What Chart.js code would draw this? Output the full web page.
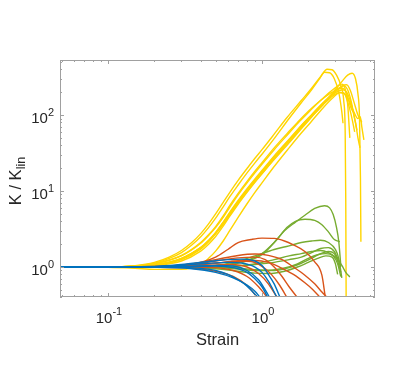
<!DOCTYPE html>
<html>
<head>
<meta charset="utf-8">
<script src="https://cdn.jsdelivr.net/npm/chart.js@4.4.0/dist/chart.umd.min.js"></script>
<style>
  body { margin: 0; background: #fff; }
  #wrap { width: 415px; height: 371px; }
</style>
</head>
<body>
<div id="wrap"><canvas id="chart" width="415" height="371"></canvas></div>
<script>
// axis limits and ticks (log-log)
const xRange = [0.0488, 5.42];
const yRange = [0.403, 530];
const xMajorTicks = [0.1, 1];
const xMinorTicks = [0.05, 0.06, 0.07, 0.08, 0.09, 0.2, 0.3, 0.4, 0.5, 0.6, 0.7, 0.8, 0.9, 2, 3, 4, 5];
const yMajorTicks = [1, 10, 100];
const yMinorTicks = [0.4, 0.5, 0.6, 0.7, 0.8, 0.9, 2, 3, 4, 5, 6, 7, 8, 9, 20, 30, 40, 50, 60, 70, 80, 90, 200, 300, 400, 500];

// curves as [strain, K/Klin] pairs
const yellowCurves = [
  [[0.049,1],[0.1,1.0],[0.15,1.04],[0.2,1.15],[0.25,1.35],[0.3,1.65],[0.35,2.1],[0.4,2.75],[0.45,3.7],[0.5,5.0],[0.56,7.1],[0.62,9.7],[0.7,13.8],[0.8,19.8],[0.9,27],[1.0,35],[1.2,56],[1.45,92],[1.8,155],[2.1,225],[2.4,320],[2.65,400],[2.85,395],[3.05,335],[3.25,245],[3.4,150],[3.47,60],[3.5,8],[3.52,0.4]],
  [[0.049,1],[0.1,1.0],[0.15,1.03],[0.2,1.12],[0.25,1.3],[0.3,1.55],[0.35,1.95],[0.4,2.5],[0.45,3.3],[0.5,4.4],[0.56,6.2],[0.62,8.5],[0.7,12],[0.8,17.3],[0.9,23.5],[1.0,30.5],[1.2,49],[1.5,90],[1.8,145],[2.1,215],[2.35,295],[2.55,365],[2.75,360],[2.95,300],[3.15,200],[3.3,110],[3.36,78]],
  [[0.049,1],[0.1,1.0],[0.15,1.02],[0.2,1.07],[0.3,1.3],[0.4,1.8],[0.45,2.2],[0.5,2.75],[0.56,3.65],[0.62,4.9],[0.7,6.9],[0.8,9.8],[0.9,13.2],[1.0,17],[1.2,26],[1.5,43],[1.8,66],[2.1,94],[2.5,140],[2.9,200],[3.3,275],[3.6,335],[3.85,355],[4.05,300],[4.2,190],[4.3,90],[4.36,15],[4.39,2.15]],
  [[0.049,1],[0.1,1.0],[0.15,1.03],[0.2,1.1],[0.3,1.4],[0.4,2.05],[0.45,2.6],[0.5,3.3],[0.56,4.5],[0.62,6.2],[0.7,8.9],[0.8,12.8],[0.9,17.3],[1.0,22.5],[1.2,35],[1.5,58],[1.75,82],[2.0,108],[2.4,155],[2.8,205],[3.1,240],[3.3,255],[3.45,230],[3.6,140],[3.72,50]],
  [[0.049,1],[0.1,1.0],[0.15,1.02],[0.2,1.06],[0.3,1.3],[0.4,1.8],[0.45,2.2],[0.5,2.8],[0.56,3.85],[0.62,5.2],[0.7,7.3],[0.8,10.3],[0.9,13.8],[1.0,17.8],[1.2,27.5],[1.5,46],[1.8,70],[2.1,97],[2.5,140],[2.9,190],[3.2,228],[3.4,242],[3.6,215],[3.8,150],[3.95,100],[4.14,63]],
  [[0.049,1],[0.1,1.0],[0.15,1.01],[0.2,1.05],[0.3,1.25],[0.4,1.72],[0.45,2.15],[0.5,2.75],[0.56,3.75],[0.62,5.1],[0.7,7.2],[0.8,10.3],[0.9,13.9],[1.0,18],[1.2,28],[1.5,47],[1.8,72],[2.05,96],[2.4,135],[2.8,178],[3.1,205],[3.35,215],[3.55,200],[3.8,140],[4.05,80],[4.2,50],[4.33,37]],
  [[0.049,1],[0.1,1.0],[0.15,1.0],[0.2,1.04],[0.3,1.2],[0.4,1.62],[0.45,2.0],[0.5,2.52],[0.56,3.45],[0.62,4.7],[0.7,6.7],[0.8,9.6],[0.9,13],[1.0,16.8],[1.2,26.5],[1.5,44],[1.8,68],[2.1,95],[2.5,137],[2.9,180],[3.2,198],[3.45,190],[3.7,150],[3.95,110],[4.2,90],[4.35,95],[4.45,70],[4.59,47]],
  [[0.049,1],[0.1,1.0],[0.15,1.03],[0.2,1.1],[0.3,1.42],[0.4,2.1],[0.45,2.65],[0.5,3.4],[0.56,4.7],[0.62,6.5],[0.7,9.3],[0.8,13.4],[0.9,18.2],[1.0,23.6],[1.2,37],[1.5,61],[1.7,80],[2.0,112],[2.4,155],[2.8,195],[3.1,218],[3.35,225],[3.55,190],[3.75,130],[3.9,110]],
  [[0.049,1],[0.1,1.0],[0.15,1.01],[0.2,1.05],[0.3,1.28],[0.4,1.8],[0.45,2.25],[0.5,2.85],[0.56,3.9],[0.62,5.3],[0.7,7.5],[0.8,10.7],[0.9,14.4],[1.0,18.6],[1.2,29],[1.5,48],[1.8,73],[2.1,100],[2.5,145],[2.9,195],[3.3,240],[3.55,250],[3.75,210],[3.95,150],[4.2,100],[4.45,80]],
  [[0.049,1],[0.1,0.99],[0.15,0.96],[0.2,0.93],[0.3,0.93],[0.4,1.08],[0.45,1.3],[0.5,1.62],[0.56,2.2],[0.62,3.05],[0.7,4.5],[0.8,6.8],[0.9,9.6],[1.0,12.8],[1.2,21],[1.5,37],[1.8,58],[2.1,83],[2.5,125],[2.9,170],[3.2,198],[3.4,195],[3.6,150],[3.8,100],[4.0,60]]
];

const greenCurves = [
  [[0.049,1],[0.2,1.0],[0.4,1.02],[0.6,1.08],[0.8,1.22],[1.0,1.5],[1.2,2.1],[1.4,3.0],[1.65,3.9],[1.9,4.8],[2.2,5.9],[2.55,6.4],[2.75,6.0],[2.9,4.9],[3.05,3.3],[3.15,2.2],[3.25,1.05]],
  [[0.049,1],[0.2,1.0],[0.4,1.02],[0.6,1.07],[0.8,1.2],[1.0,1.45],[1.25,2.3],[1.45,3.3],[1.65,4.0],[1.9,4.25],[2.2,4.1],[2.45,3.6],[2.7,2.9],[2.95,2.3],[3.2,2.15]],
  [[0.049,1],[0.3,1.0],[0.5,1.05],[0.65,1.15],[0.9,1.4],[1.2,1.7],[1.5,1.9],[1.8,2.1],[2.1,2.2],[2.4,2.25],[2.7,2.1],[3.0,1.7],[3.15,1.3],[3.3,0.72]],
  [[0.049,1],[0.3,1.0],[0.6,1.02],[0.9,1.1],[1.2,1.25],[1.5,1.4],[1.8,1.5],[2.1,1.6],[2.4,1.65],[2.7,1.55],[3.0,1.35],[3.3,1.05],[3.5,0.85],[3.72,0.74]],
  [[0.049,1],[0.3,1.0],[0.5,0.98],[0.7,0.94],[0.9,0.9],[1.1,0.9],[1.4,0.97],[1.7,1.1],[2.0,1.3],[2.3,1.45],[2.6,1.5],[2.9,1.4],[3.1,1.1],[3.25,0.75]],
  [[0.049,1],[0.3,0.99],[0.5,0.95],[0.7,0.88],[0.9,0.83],[1.1,0.82],[1.4,0.88],[1.7,1.0],[2.0,1.15],[2.3,1.3],[2.6,1.4],[2.85,1.35],[3.0,1.1],[3.1,0.8]],
  [[0.049,1],[0.3,1.0],[0.5,1.0],[0.7,0.97],[0.9,0.92],[1.2,0.9],[1.5,0.98],[1.8,1.12],[2.1,1.3],[2.4,1.5],[2.7,1.6],[2.95,1.5],[3.1,1.2],[3.25,0.85]],
  [[0.049,1],[0.3,1.0],[0.6,1.02],[0.9,1.08],[1.2,1.15],[1.5,1.25],[1.8,1.35],[2.1,1.55],[2.4,1.75],[2.7,1.8],[2.95,1.6],[3.1,1.3],[3.25,1.0]]
];

const orangeCurves = [
  [[0.049,1],[0.2,1.0],[0.3,1.05],[0.4,1.15],[0.5,1.35],[0.6,1.7],[0.7,2.1],[0.85,2.3],[1.0,2.4],[1.2,2.38],[1.4,2.2],[1.6,1.95],[1.9,1.6],[2.2,1.17],[2.45,0.78],[2.57,0.42]],
  [[0.049,1],[0.2,1.02],[0.35,1.1],[0.5,1.25],[0.7,1.42],[0.9,1.48],[1.1,1.42],[1.35,1.25],[1.6,1.0],[1.9,0.78],[2.2,0.6],[2.45,0.47],[2.64,0.4]],
  [[0.049,1],[0.2,1.01],[0.35,1.05],[0.5,1.12],[0.7,1.2],[0.9,1.22],[1.1,1.15],[1.3,1.0],[1.6,0.8],[1.9,0.62],[2.15,0.5],[2.38,0.4]],
  [[0.049,1],[0.2,1.01],[0.35,1.08],[0.5,1.2],[0.7,1.32],[0.9,1.35],[1.05,1.25],[1.2,1.0],[1.35,0.75],[1.5,0.55],[1.69,0.4]],
  [[0.049,1],[0.2,1.0],[0.35,1.04],[0.5,1.12],[0.7,1.2],[0.85,1.18],[1.0,1.02],[1.15,0.8],[1.3,0.58],[1.45,0.4]],
  [[0.049,1],[0.2,1.0],[0.35,1.02],[0.5,1.06],[0.65,1.08],[0.8,1.0],[0.95,0.82],[1.1,0.6],[1.25,0.4]],
  [[0.049,1],[0.2,1.0],[0.35,1.0],[0.5,0.98],[0.65,0.9],[0.8,0.75],[0.95,0.55],[1.08,0.4]],
  [[0.049,1],[0.2,0.99],[0.35,0.96],[0.5,0.88],[0.65,0.75],[0.8,0.57],[0.93,0.4]]
];

const blueCurves = [
  [[0.049,1],[0.2,1.02],[0.3,1.08],[0.45,1.18],[0.6,1.25],[0.75,1.27],[0.9,1.2],[1.0,1.05],[1.1,0.8],[1.2,0.6],[1.31,0.4]],
  [[0.049,1],[0.2,1.01],[0.3,1.05],[0.45,1.12],[0.6,1.15],[0.75,1.12],[0.9,1.0],[1.0,0.85],[1.1,0.65],[1.25,0.4]],
  [[0.049,1],[0.2,1.0],[0.35,1.02],[0.5,1.03],[0.65,0.98],[0.8,0.85],[0.9,0.7],[1.0,0.55],[1.09,0.4]],
  [[0.049,1],[0.2,1.0],[0.3,0.99],[0.4,0.96],[0.5,0.9],[0.6,0.8],[0.7,0.68],[0.8,0.56],[0.94,0.4]],
  [[0.049,1],[0.2,1.0],[0.3,1.01],[0.5,1.05],[0.65,1.03],[0.8,0.9],[0.95,0.68],[1.05,0.5],[1.12,0.4]],
  [[0.049,1],[0.2,0.99],[0.35,0.95],[0.5,0.85],[0.65,0.72],[0.8,0.58],[0.9,0.48],[0.97,0.4]]
];

const families = [
  { curves: blueCurves, color: '#0072BD' },
  { curves: orangeCurves, color: '#D95319' },
  { curves: greenCurves, color: '#77AC30' },
  { curves: yellowCurves, color: '#FFD500' }
];

const textColor = '#262626';
const boxColor = '#a0a0a0';

function drawPow(ctx, exp, x, y, align, baseSize, expSize, rise) {
    ctx.font = baseSize + 'px "Liberation Sans", Arial, sans-serif';
    const wBase = ctx.measureText('10').width;
    ctx.font = expSize + 'px "Liberation Sans", Arial, sans-serif';
    const wExp = ctx.measureText(exp).width;
    let start = x;
    if (align === 'center') start = x - (wBase + wExp) / 2;
    if (align === 'right') start = x - (wBase + wExp);
    ctx.textAlign = 'left';
    ctx.textBaseline = 'alphabetic';
    ctx.font = baseSize + 'px "Liberation Sans", Arial, sans-serif';
    ctx.fillText('10', start, y);
    ctx.font = expSize + 'px "Liberation Sans", Arial, sans-serif';
    ctx.fillText(exp, start + wBase, y - rise);
}

const axesBox = {
    id: 'axesBox',
    afterDatasetsDraw(chart) {
        const { ctx, chartArea: a, scales } = chart;
        const sx = scales.x, sy = scales.y;
        ctx.save();
        ctx.strokeStyle = boxColor;
        ctx.lineWidth = 1;
        ctx.beginPath();
        function xTick(v, len) {
            const p = Math.round(sx.getPixelForValue(v)) + 0.5;
            ctx.moveTo(p, a.bottom); ctx.lineTo(p, a.bottom - len);
            ctx.moveTo(p, a.top); ctx.lineTo(p, a.top + len);
        }
        function yTick(v, len) {
            const p = Math.round(sy.getPixelForValue(v)) + 0.5;
            ctx.moveTo(a.left, p); ctx.lineTo(a.left + len, p);
            ctx.moveTo(a.right, p); ctx.lineTo(a.right - len, p);
        }
        xMinorTicks.forEach(v => xTick(v, 2));
        xMajorTicks.forEach(v => xTick(v, 4));
        yMinorTicks.forEach(v => yTick(v, 2));
        yMajorTicks.forEach(v => yTick(v, 4));
        ctx.stroke();
        ctx.strokeRect(a.left + 0.5, a.top + 0.5, a.right - a.left - 1, a.bottom - a.top - 1);

        ctx.fillStyle = textColor;
        xMajorTicks.forEach(v => {
            const p = sx.getPixelForValue(v);
            drawPow(ctx, String(Math.round(Math.log10(v))), p + 1, 323, 'center', 15, 11, 8);
        });
        yMajorTicks.forEach(v => {
            const p = sy.getPixelForValue(v);
            drawPow(ctx, String(Math.round(Math.log10(v))), 54, p + 8, 'right', 15, 11, 7);
        });

        // axis titles
        ctx.font = '16.5px "Liberation Sans", Arial, sans-serif';
        ctx.textAlign = 'center';
        ctx.textBaseline = 'alphabetic';
        ctx.fillText('Strain', (a.left + a.right) / 2, 345);

        ctx.translate(21, 181);
        ctx.rotate(-Math.PI / 2);
        ctx.font = '16.5px "Liberation Sans", Arial, sans-serif';
        const wMain = ctx.measureText('K / K').width;
        ctx.font = '12.5px "Liberation Sans", Arial, sans-serif';
        const wSub = ctx.measureText('lin').width;
        const s = -(wMain + wSub) / 2;
        ctx.textAlign = 'left';
        ctx.font = '16.5px "Liberation Sans", Arial, sans-serif';
        ctx.fillText('K / K', s, 0);
        ctx.font = '12.5px "Liberation Sans", Arial, sans-serif';
        ctx.fillText('lin', s + wMain, 4);
        ctx.restore();
    }
};

const datasets = [];
families.forEach(f => {
    f.curves.forEach(c => {
        datasets.push({
            data: c.map(p => ({ x: p[0], y: p[1] })),
            borderColor: f.color,
            borderWidth: 1.4,
            pointRadius: 0,
            fill: false,
            cubicInterpolationMode: 'monotone'
        });
    });
});

new Chart(document.getElementById('chart').getContext('2d'), {
    type: 'line',
    data: { datasets: datasets },
    options: {
        responsive: false,
        animation: false,
        parsing: true,
        layout: { padding: { left: 60, top: 60, right: 40, bottom: 74 } },
        plugins: { legend: { display: false }, tooltip: { enabled: false } },
        scales: {
            x: { type: 'logarithmic', min: xRange[0], max: xRange[1], display: false },
            y: { type: 'logarithmic', min: yRange[0], max: yRange[1], display: false }
        }
    },
    plugins: [axesBox]
});
</script>
</body>
</html>
